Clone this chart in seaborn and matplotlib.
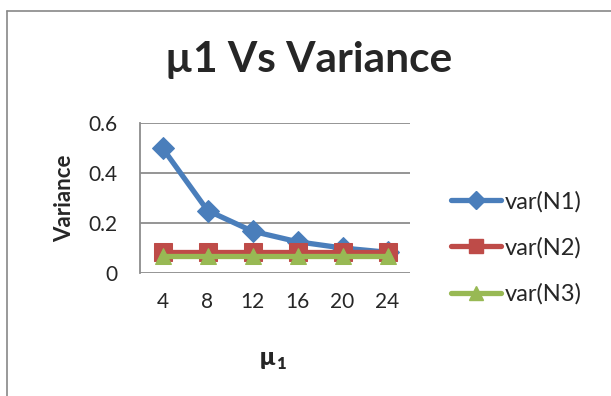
import matplotlib
matplotlib.use("Agg")
import matplotlib.pyplot as plt
from matplotlib.lines import Line2D
import seaborn as sns
import pandas as pd

# Chart data
mu_values = [4, 8, 12, 16, 20, 24]
var_n1 = [0.5, 0.25, 0.167, 0.125, 0.1, 0.083]
var_n2 = [0.083, 0.083, 0.083, 0.083, 0.083, 0.083]
var_n3 = [0.07, 0.07, 0.07, 0.07, 0.07, 0.07]
series_names = ["var(N1)", "var(N2)", "var(N3)"]
y_ticks = [0, 0.2, 0.4, 0.6]

colors = ["#4A7EBB", "#BE4B48", "#98B954"]
markers = ["D", "s", "^"]
marker_sizes = [11, 12.5, 12]

rows = []
for name, vals in zip(series_names, [var_n1, var_n2, var_n3]):
    for i, (m, v) in enumerate(zip(mu_values, vals)):
        rows.append({"pos": i, "mu": m, "value": v, "series": name})
df = pd.DataFrame(rows)

sns.set_style("white")
plt.rcParams["font.family"] = ["Lato", "DejaVu Sans"]

fig = plt.figure(figsize=(6.11, 3.96), dpi=100)
ax = fig.add_axes([140 / 611, 1 - 273 / 396, 270 / 611, 150 / 396])

for name, c, mk, ms in zip(series_names, colors, markers, marker_sizes):
    sub = df[df["series"] == name]
    sns.lineplot(data=sub, x="pos", y="value", ax=ax, color=c, marker=mk,
                 markersize=ms, markeredgecolor=c, linewidth=3.8,
                 label=name, legend=False)

ax.set_xlim(-0.5, len(mu_values) - 0.5)
ax.set_ylim(0, 0.6)
ax.set_xticks(range(len(mu_values)))
ax.set_xticklabels([str(m) for m in mu_values], fontsize=15)
ax.set_yticks(y_ticks)
ax.set_yticklabels(["0", "0.2", "0.4", "0.6"], fontsize=15)
ax.yaxis.grid(True, color="#8C8C8C", linewidth=1.3)
ax.set_axisbelow(True)
for side in ["top", "right", "bottom"]:
    ax.spines[side].set_visible(False)
ax.spines["left"].set_color("#8C8C8C")
ax.spines["left"].set_linewidth(1.3)
ax.tick_params(axis="y", length=8, color="#8C8C8C", width=1.3, pad=8)
ax.tick_params(axis="x", length=0, pad=14)

ax.set_xlabel("")
ax.set_ylabel("Variance", fontsize=16, fontweight="bold", labelpad=10)

# x-axis title: bold mu with subscript 1
fig.text(275 / 611, 1 - 358 / 396, "μ", ha="right", va="center",
         fontsize=18, fontweight="heavy")
fig.text(276 / 611, 1 - 364 / 396, "1", ha="left", va="center",
         fontsize=12, fontweight="heavy")

fig.text(309 / 611, 1 - 60 / 396, "µ1 Vs Variance", ha="center", va="center",
         fontsize=30.5, fontweight="bold")

handles = [Line2D([0], [0], color=c, marker=mk, markersize=ms * 0.85,
                  linewidth=3.8, markeredgecolor=c)
           for c, mk, ms in zip(colors, markers, marker_sizes)]
fig.legend(handles, series_names, loc="center left",
           bbox_to_anchor=(430 / 611, 1 - 248 / 396), frameon=False,
           fontsize=17, handlelength=2.1, handletextpad=0.15,
           labelspacing=1.05)

# Outer chart frame
fig.add_artist(Line2D([7.5 / 611, 7.5 / 611], [0, 1 - 10.5 / 396],
                      transform=fig.transFigure, color="#888888", linewidth=1.2))
fig.add_artist(Line2D([7.5 / 611, 1], [1 - 10.5 / 396, 1 - 10.5 / 396],
                      transform=fig.transFigure, color="#888888", linewidth=1.2))

fig.savefig("out.png", dpi=100)
